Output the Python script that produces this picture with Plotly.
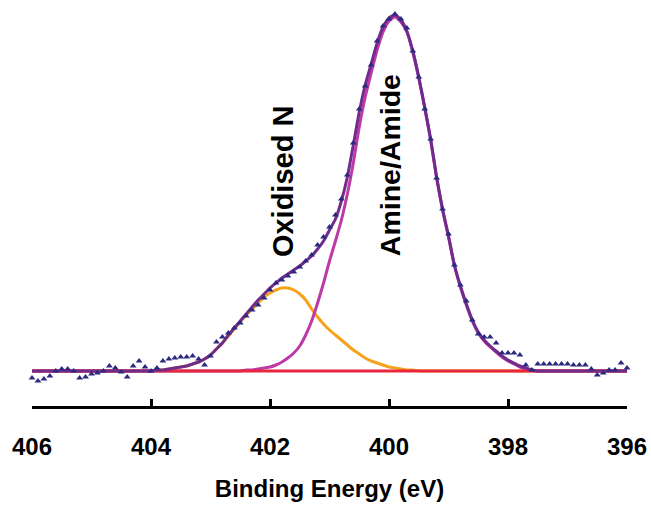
import plotly.graph_objects as go

# N 1s XPS spectrum: binding energy grid (eV)
energy = [
    406.0, 405.9, 405.8, 405.7, 405.6, 405.5, 405.4, 405.3, 405.2, 405.1,
    405.0, 404.9, 404.8, 404.7, 404.6, 404.5, 404.4, 404.3, 404.2, 404.1,
    404.0, 403.9, 403.8, 403.7, 403.6, 403.5, 403.4, 403.3, 403.2, 403.1,
    403.0, 402.9, 402.8, 402.7, 402.6, 402.5, 402.4, 402.3, 402.2, 402.1,
    402.0, 401.9, 401.8, 401.7, 401.6, 401.5, 401.4, 401.3, 401.2, 401.1,
    401.0, 400.9, 400.8, 400.7, 400.6, 400.5, 400.4, 400.3, 400.2, 400.1,
    400.0, 399.9, 399.8, 399.7, 399.6, 399.5, 399.4, 399.3, 399.2, 399.1,
    399.0, 398.9, 398.8, 398.7, 398.6, 398.5, 398.4, 398.3, 398.2, 398.1,
    398.0, 397.9, 397.8, 397.7, 397.6, 397.5, 397.4, 397.3, 397.2, 397.1,
    397.0, 396.9, 396.8, 396.7, 396.6, 396.5, 396.4, 396.3, 396.2, 396.1,
    396.0,
]

# Measured intensity (a.u., background subtracted)
measured = [
    -7, -10, -8, -5, 0, 2, 2, 0, -7, -6,
    -3, -2, 0, 5, 3, -1, -6, 5, 10, 4,
    0, 3, 10, 12, 13, 14, 14, 15, 12, 6,
    15, 29, 34, 38, 43, 48, 55, 61, 66, 73,
    81, 88, 91, 95, 99, 104, 110, 116, 126, 134,
    144, 156, 172, 196, 228, 262, 285, 306, 330, 345,
    352, 357, 352, 343, 320, 294, 262, 232, 193, 162,
    137, 106, 86, 70, 51, 37, 34, 34, 28, 18,
    18, 18, 16, 6, 1, 7, 7, 7, 7, 7,
    7, 6, 6, 6, 2, -4, -2, 1, 1, 8,
    3,
]

# Fitted envelope
envelope = [
    0, 0, 0, 0, 0, 0, 0, 0, 0, 0,
    0, 0, 0, 0, 0, 0, 0, 0, 0, 0,
    0, 1, 1, 2, 3, 4, 5, 7, 9, 12,
    16, 22, 28, 36, 43, 50, 57, 64, 71, 77,
    83, 88, 93, 97, 101, 105, 110, 115, 122, 130,
    141, 152, 170, 194, 226, 259, 286, 307, 328, 344,
    353, 356, 351, 340, 320, 294, 264, 232, 194, 162,
    135, 106, 85, 67, 51, 39, 31, 25, 20, 15,
    11, 8, 5, 3, 1, 0, 0, 0, 0, 0,
    0, 0, 0, 0, 0, 0, 0, 0, 0, 0,
    0,
]

# Amine/amide component
amine = [
    0, 0, 0, 0, 0, 0, 0, 0, 0, 0,
    0, 0, 0, 0, 0, 0, 0, 0, 0, 0,
    0, 0, 0, 0, 0, 0, 0, 0, 0, 0,
    0, 0, 0, 0, 0, 0, 1, 1, 2, 3,
    4, 6, 9, 13, 18, 25, 36, 50, 68, 88,
    110, 130, 151, 177, 208, 244, 274, 298, 321, 339,
    350, 354, 349, 339, 319, 293, 263, 231, 193, 161,
    134, 105, 84, 66, 50, 38, 30, 24, 19, 14,
    10, 7, 4, 2, 1, 0, 0, 0, 0, 0,
    0, 0, 0, 0, 0, 0, 0, 0, 0, 0,
    0,
]

# Oxidised nitrogen component
oxidised = [
    0, 0, 0, 0, 0, 0, 0, 0, 0, 0,
    0, 0, 0, 0, 0, 0, 0, 0, 0, 0,
    0, 1, 1, 2, 3, 4, 5, 7, 9, 12,
    16, 22, 28, 35, 42, 49, 56, 62, 68, 74,
    78, 81, 83, 83, 81, 77, 71, 62, 54, 47,
    41, 36, 31, 26, 21, 17, 13, 10, 8, 6,
    4, 3, 2, 1, 1, 0, 0, 0, 0, 0,
    0, 0, 0, 0, 0, 0, 0, 0, 0, 0,
    0, 0, 0, 0, 0, 0, 0, 0, 0, 0,
    0, 0, 0, 0, 0, 0, 0, 0, 0, 0,
    0,
]

# Background line
baseline_energy = [406.0, 396.0]
baseline = [0, 0]

tick_values = [406, 404, 402, 400, 398, 396]
tick_text = ["406", "404", "402", "400", "398", "396"]

FONT = "Liberation Sans, Arial, sans-serif"

fig = go.Figure()

fig.add_trace(go.Scatter(
    x=energy, y=oxidised, mode="lines", line=dict(color="#f6a21c", width=3, shape="spline", smoothing=0.6),
    cliponaxis=False, hoverinfo="skip"))
fig.add_trace(go.Scatter(
    x=energy, y=amine, mode="lines", line=dict(color="#bd3aa6", width=3, shape="spline", smoothing=0.6),
    cliponaxis=False, hoverinfo="skip"))
fig.add_trace(go.Scatter(
    x=baseline_energy, y=baseline, mode="lines", line=dict(color="#e8273f", width=2.8),
    cliponaxis=False, hoverinfo="skip"))
fig.add_trace(go.Scatter(
    x=energy, y=envelope, mode="lines", line=dict(color="#6f2c8c", width=3, shape="spline", smoothing=0.6),
    cliponaxis=False, hoverinfo="skip"))
fig.add_trace(go.Scatter(
    x=energy, y=measured, mode="markers",
    marker=dict(symbol="triangle-up", size=6, color="#2b2a80"),
    cliponaxis=False))

fig.add_annotation(x=401.78, y=190, text="Oxidised N", textangle=-90, showarrow=False,
                   font=dict(family=FONT, size=29, color="black", weight="bold"))
fig.add_annotation(x=399.98, y=206, text="Amine/Amide", textangle=-90, showarrow=False,
                   font=dict(family=FONT, size=28.5, color="black", weight="bold"))

fig.update_layout(
    width=651, height=506,
    margin=dict(l=32, r=24, t=0, b=100),
    paper_bgcolor="white", plot_bgcolor="white",
    showlegend=False,
    font=dict(family=FONT, color="black"),
    xaxis=dict(
        range=[406, 396], showgrid=False, zeroline=False,
        showline=True, linecolor="black", linewidth=2.8,
        ticks="inside", ticklen=7, tickwidth=2.8, tickcolor="black",
        tickvals=tick_values, ticktext=tick_text,
        tickfont=dict(family=FONT, size=24, color="black", weight="bold"),
        ticklabelstandoff=17,
        title=dict(text="Binding Energy (eV)", standoff=22,
                   font=dict(family=FONT, size=24, color="black", weight="bold")),
    ),
    yaxis=dict(range=[-35, 371], visible=False, showgrid=False, zeroline=False),
)

fig.write_html("out.html")
